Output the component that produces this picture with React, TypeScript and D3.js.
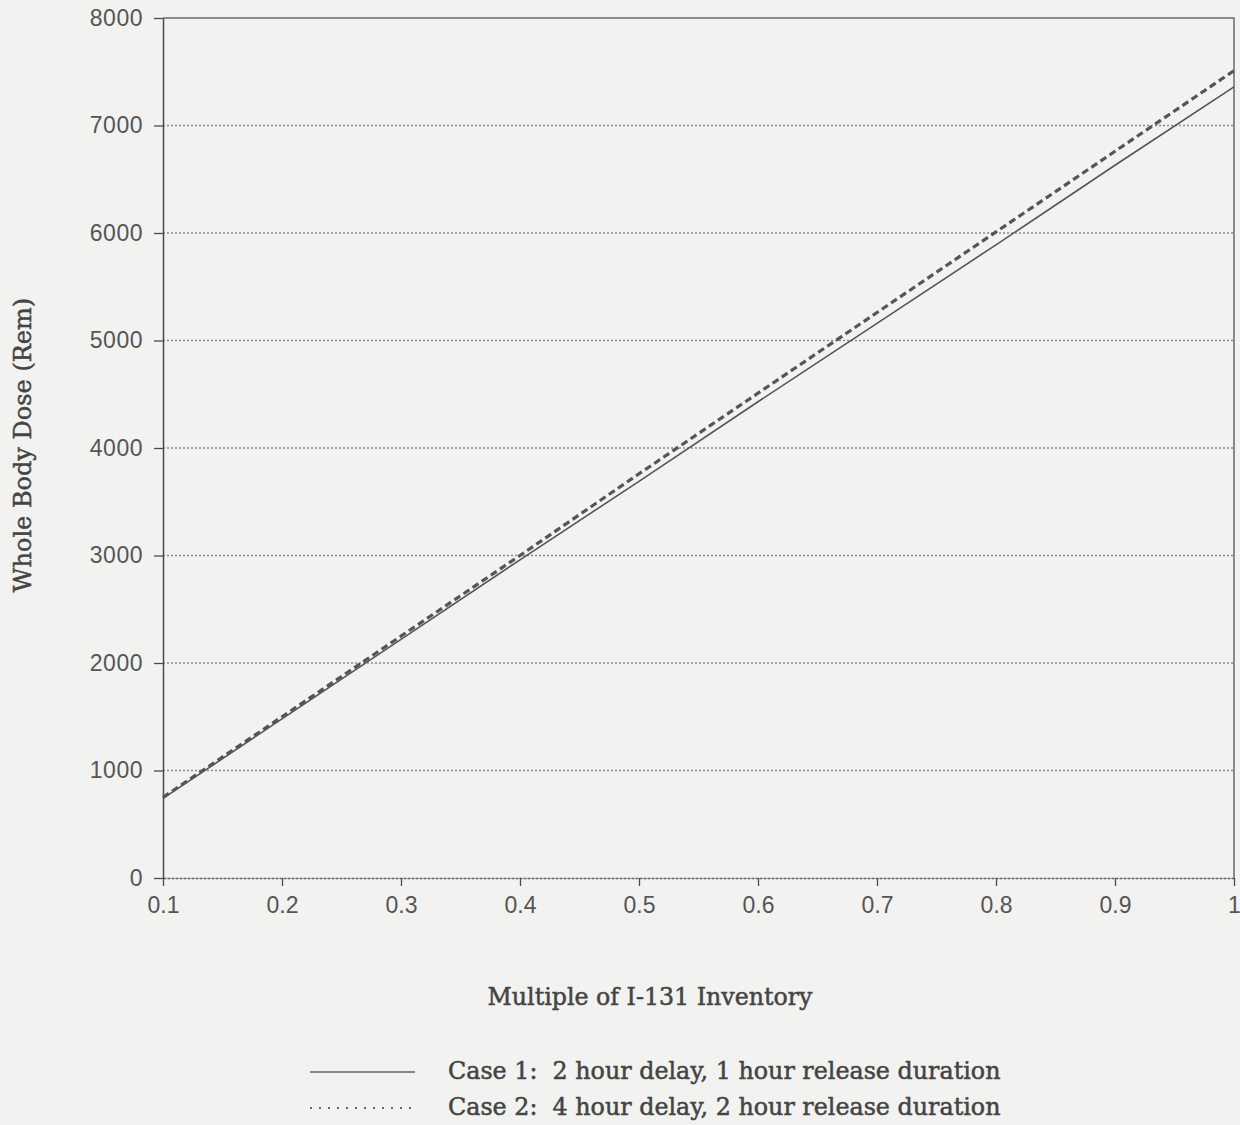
import * as d3 from "d3";
import React, { useEffect, useRef } from "react";

// Multiple of I-131 inventory
const inventory = [0.1, 0.2, 0.3, 0.4, 0.5, 0.6, 0.7, 0.8, 0.9, 1.0];
// Case 1: 2 hour delay, 1 hour release duration
const case1 = [740, 1480, 2220, 2960, 3690, 4430, 5160, 5890, 6630, 7360];
// Case 2: 4 hour delay, 2 hour release duration
const case2 = [750, 1500, 2250, 3000, 3760, 4510, 5260, 6010, 6760, 7510];

const xTicks = [0.1, 0.2, 0.3, 0.4, 0.5, 0.6, 0.7, 0.8, 0.9, 1];
const yTicks = [0, 1000, 2000, 3000, 4000, 5000, 6000, 7000, 8000];

const legendLabels = [
  "Case 1:  2 hour delay, 1 hour release duration",
  "Case 2:  4 hour delay, 2 hour release duration",
];

const W = 1240;
const H = 1125;
const ink = "#4a4a4a";
const serif = "DejaVu Serif, Liberation Serif, serif";

const App = () => {
  const svgRef = useRef<SVGSVGElement>(null);

  useEffect(() => {
    const svg = d3.select(svgRef.current);
    svg.selectAll("*").remove();

    const left = 163;
    const right = 1234;
    const top = 18;
    const bottom = 878;

    const x = d3.scaleLinear().domain([0.1, 1]).range([left, right]);
    const y = d3.scaleLinear().domain([0, 8000]).range([bottom, top]);

    svg.append("rect").attr("width", W).attr("height", H).attr("fill", "#f2f2f0");

    // lignes de grille pointillées
    svg
      .append("g")
      .selectAll("line")
      .data(yTicks.slice(1, -1))
      .join("line")
      .attr("x1", left)
      .attr("x2", right)
      .attr("y1", (d) => y(d))
      .attr("y2", (d) => y(d))
      .attr("stroke", "#8a8a8a")
      .attr("stroke-width", 1.3)
      .attr("stroke-dasharray", "2,2");

    // cadre haut / droite
    svg
      .append("path")
      .attr("d", `M${left},${top}H${right}V${bottom}`)
      .attr("fill", "none")
      .attr("stroke", "#6a6a6a")
      .attr("stroke-width", 1.5);

    // axe x
    const xAxis = svg
      .append("g")
      .attr("transform", `translate(0,${bottom})`)
      .call(
        d3
          .axisBottom(x)
          .tickValues(xTicks)
          .tickSize(8)
          .tickSizeOuter(0)
          .tickFormat((d) => d3.format("~g")(d as number))
      );
    xAxis.select(".domain").attr("stroke", "#666").attr("stroke-width", 1.5).attr("stroke-dasharray", "3,1");
    xAxis.selectAll(".tick line").attr("stroke", ink).attr("stroke-width", 1.3);
    xAxis
      .selectAll(".tick text")
      .attr("fill", "#555")
      .attr("font-family", "Liberation Sans, Arial, sans-serif")
      .attr("font-size", 23)
      .attr("dy", "1.05em");

    // axe y
    const yAxis = svg
      .append("g")
      .attr("transform", `translate(${left},0)`)
      .call(d3.axisLeft(y).tickValues(yTicks).tickSize(9).tickSizeOuter(0).tickFormat(d3.format("d")));
    yAxis.select(".domain").attr("stroke", ink).attr("stroke-width", 1.5);
    yAxis.selectAll(".tick line").attr("stroke", ink).attr("stroke-width", 1.3);
    yAxis
      .selectAll(".tick text")
      .attr("fill", "#555")
      .attr("font-family", "Liberation Sans, Arial, sans-serif")
      .attr("font-size", 23)
      .attr("letter-spacing", 0.5)
      .attr("x", -20);

    const line = d3
      .line<number>()
      .x((_, i) => x(inventory[i]))
      .y((d) => y(d));

    svg
      .append("path")
      .datum(case1)
      .attr("fill", "none")
      .attr("stroke", "#555")
      .attr("stroke-width", 1.6)
      .attr("d", line);

    svg
      .append("path")
      .datum(case2)
      .attr("fill", "none")
      .attr("stroke", "#555")
      .attr("stroke-width", 3.2)
      .attr("stroke-dasharray", "7,4")
      .attr("d", line);

    // titres des axes
    svg
      .append("text")
      .attr("x", 650)
      .attr("y", 1005)
      .attr("text-anchor", "middle")
      .attr("font-family", serif)
      .attr("font-size", 23.7)
      .attr("fill", "#444")
      .attr("stroke", "#444")
      .attr("stroke-width", 0.5)
      .text("Multiple of I-131 Inventory");

    svg
      .append("text")
      .attr("transform", `translate(31,445) rotate(-90)`)
      .attr("text-anchor", "middle")
      .attr("font-family", serif)
      .attr("font-size", 24)
      .attr("fill", "#444")
      .attr("stroke", "#444")
      .attr("stroke-width", 0.5)
      .text("Whole Body Dose (Rem)");

    // légende
    const legend = svg.append("g");
    legendLabels.forEach((label, i) => {
      const ly = 1072 + i * 36;
      legend
        .append("line")
        .attr("x1", 310)
        .attr("x2", 415)
        .attr("y1", ly)
        .attr("y2", ly)
        .attr("stroke", "#666")
        .attr("stroke-width", i === 0 ? 1.4 : 2)
        .attr("stroke-dasharray", i === 0 ? null : "2,7");
      legend
        .append("text")
        .attr("x", 448)
        .attr("y", ly + 7)
        .attr("font-family", serif)
        .attr("font-size", 23.8)
        .attr("fill", "#444")
        .attr("stroke", "#444")
        .attr("stroke-width", 0.5)
        .style("white-space", "pre")
        .text(label);
    });
  }, []);

  return (
    <div style={{ position: "absolute", left: 0, top: 0 }}>
      <svg ref={svgRef} width={W} height={H} style={{ display: "block" }}></svg>
    </div>
  );
};

export default App;
